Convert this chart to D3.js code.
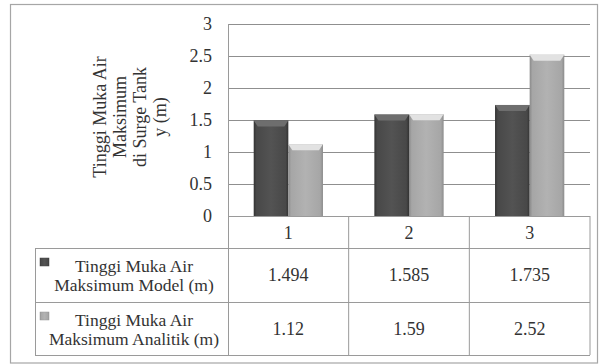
<!DOCTYPE html>
<html><head><meta charset="utf-8">
<script src="https://cdn.jsdelivr.net/npm/d3@7"></script>
</head><body style="margin:0;padding:0;background:#fff;">
<svg id="c" width="603" height="364" style="display:block;"></svg>
<script>
const categories = ["1", "2", "3"];
const seriesNames = ["Tinggi Muka Air|Maksimum Model (m)", "Tinggi Muka Air|Maksimum Analitik (m)"];
const modelValues = [1.494, 1.585, 1.735];
const analitikValues = [1.12, 1.59, 2.52];
const modelLabels = ["1.494", "1.585", "1.735"];
const analitikLabels = ["1.12", "1.59", "2.52"];
const yTicks = [0, 0.5, 1, 1.5, 2, 2.5, 3];
const yTickLabels = ["0", "0.5", "1", "1.5", "2", "2.5", "3"];
const yTitle = ["Tinggi Muka Air", "Maksimum", "di Surge Tank", "y (m)"];

const svg = d3.select("#c");
const txt = "#333";
const lineC = "#9a9a9a";

const L = 228, R = 590, T = 24, B = 216;
const tableLeft = 35, rowY = [216, 248, 302, 355];

const x = d3.scaleBand().domain(categories).range([L, R]).padding(0);
const bw = x.bandwidth();
const x1 = d3.scaleBand().domain([0, 1]).range([bw * 0.213, bw * 0.787]).padding(0);
const y = d3.scaleLinear().domain([0, 3]).range([B, T]);

svg.append("rect").attr("x", 10.5).attr("y", 4.5).attr("width", 587).attr("height", 358.5)
  .attr("fill", "none").attr("stroke", "#a6a6a6").attr("stroke-width", 1.2);

const defs = svg.append("defs");
function grad(id, stops) {
  const g = defs.append("linearGradient").attr("id", id).attr("x1", "0").attr("x2", "1").attr("y1", "0").attr("y2", "0");
  stops.forEach(s => g.append("stop").attr("offset", s[0]).attr("stop-color", s[1]));
}
grad("gDark", [[0, "#333"], [0.08, "#484848"], [0.5, "#535353"], [0.92, "#484848"], [1, "#333"]]);
grad("gLight", [[0, "#8a8a8a"], [0.08, "#a6a6a6"], [0.5, "#b2b2b2"], [0.92, "#a6a6a6"], [1, "#8c8c8c"]]);
const topDark = "#6e6e6e", topLight = "#e2e2e2";

function styleText(s, size) {
  return s.style("font-family", '"Times New Roman"').style("font-size", size + "px").style("fill", txt);
}

const yAxis = d3.axisLeft(y).tickValues(yTicks).tickSize(-(R - L)).tickFormat((d, i) => yTickLabels[i]);
const ga = svg.append("g").attr("transform", `translate(${L},0)`).call(yAxis);
ga.select(".domain").remove();
ga.selectAll(".tick line").attr("stroke", "#8f8f8f").attr("stroke-width", 1);
ga.attr("font-family", null).attr("font-size", null);
styleText(ga.selectAll(".tick text").attr("x", -16), 18);

const data = categories.map((c, i) => ({ c, vals: [modelValues[i], analitikValues[i]] }));
const grp = svg.append("g").selectAll("g").data(data).join("g").attr("transform", d => `translate(${x(d.c)},0)`);
grp.each(function (d) {
  const g = d3.select(this);
  d.vals.forEach((v, k) => {
    const bx = x1(k), w = x1.bandwidth(), by = y(v), h = B - by;
    g.append("rect").attr("x", bx).attr("y", by).attr("width", w).attr("height", h)
      .attr("fill", k === 0 ? "url(#gDark)" : "url(#gLight)");
    g.append("path").attr("d", `M${bx},${by}L${bx + w},${by}L${bx + w - 4},${by + 6}L${bx + 4},${by + 6}Z`)
      .attr("fill", k === 0 ? topDark : topLight);
  });
});

const tl = svg.append("g").attr("stroke", lineC).attr("stroke-width", 1).attr("fill", "none");
tl.append("line").attr("x1", L).attr("x2", R).attr("y1", rowY[0] + 0.5).attr("y2", rowY[0] + 0.5);
[1, 2, 3].forEach(i => tl.append("line").attr("x1", tableLeft).attr("x2", R).attr("y1", rowY[i] + 0.5).attr("y2", rowY[i] + 0.5));
tl.append("line").attr("x1", L + 0.5).attr("x2", L + 0.5).attr("y1", T).attr("y2", rowY[3]);
categories.forEach(c => tl.append("line").attr("x1", x(c) + bw).attr("x2", x(c) + bw).attr("y1", rowY[0]).attr("y2", rowY[3]));
tl.append("line").attr("x1", tableLeft + 0.5).attr("x2", tableLeft + 0.5).attr("y1", rowY[1]).attr("y2", rowY[3]);

styleText(svg.append("g").selectAll("text").data(categories).join("text")
  .attr("x", d => x(d) + bw / 2).attr("y", (rowY[0] + rowY[1]) / 2 + 7)
  .attr("text-anchor", "middle").text(d => d), 18);

[modelLabels, analitikLabels].forEach((labs, r) => {
  const cy = (rowY[r + 1] + rowY[r + 2]) / 2;
  styleText(svg.append("g").selectAll("text").data(labs).join("text")
    .attr("x", (d, i) => x(categories[i]) + bw / 2).attr("y", cy + 6)
    .attr("text-anchor", "middle").text(d => d), 18);
  svg.append("rect").attr("x", 40).attr("y", rowY[r + 1] + 10).attr("width", 9).attr("height", 8)
    .attr("fill", r === 0 ? "url(#gDark)" : "url(#gLight)").attr("stroke", r === 0 ? "#444" : "#999").attr("stroke-width", 0.5);
  const parts = seriesNames[r].split("|");
  parts.forEach((p, j) => styleText(svg.append("text").attr("text-anchor", "middle")
    .attr("x", 134).attr("y", rowY[r + 1] + 24 + j * 19).text(p), 17.5));
});

yTitle.forEach((p, j) => styleText(svg.append("text")
  .attr("transform", `translate(${106 + j * 20},117) rotate(-90)`).attr("text-anchor", "middle").text(p), 18));
</script>
</body></html>
